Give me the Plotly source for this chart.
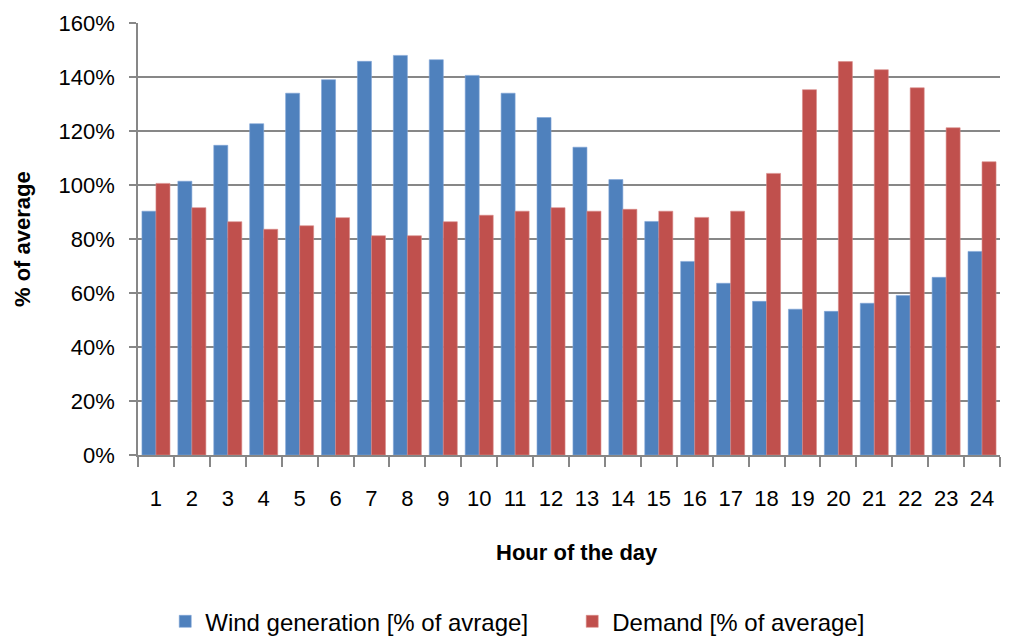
import plotly.graph_objects as go

hours = [str(h) for h in range(1, 25)]
wind = [90.3, 101.4, 114.7, 122.7, 134.0, 139.0, 145.8, 148.0, 146.4, 140.6, 134.0, 125.0,
        114.0, 102.0, 86.5, 71.7, 63.6, 56.9, 54.0, 53.2, 56.2, 59.1, 65.8, 75.4]
demand = [100.6, 91.6, 86.4, 83.6, 84.9, 87.9, 81.2, 81.2, 86.4, 88.8, 90.3, 91.6,
          90.3, 91.0, 90.3, 88.0, 90.3, 104.3, 135.3, 145.7, 142.7, 136.0, 121.2, 108.6]
yticks = [0, 20, 40, 60, 80, 100, 120, 140, 160]
ytext = [f"{v}%" for v in yticks]

font = "Liberation Sans"
fig = go.Figure()
fig.add_trace(go.Bar(x=hours, y=wind, name="Wind generation [% of avrage]",
                     marker=dict(color="#4F81BD", line=dict(color="#7FA4D6", width=0.6))))
fig.add_trace(go.Bar(x=hours, y=demand, name="Demand [% of average]",
                     marker=dict(color="#C0504D", line=dict(color="#D98A88", width=0.6))))

fig.update_layout(
    width=1011, height=637,
    margin=dict(l=138, r=11, t=21, b=182),
    paper_bgcolor="white", plot_bgcolor="white",
    barmode="group", bargap=0.22, bargroupgap=0.0,
    font=dict(family=font, size=22, color="#000000"),
    showlegend=True,
    legend=dict(orientation="h", xref="container", x=0.566, xanchor="center",
                yref="container", y=0.024, yanchor="middle",
                font=dict(size=24), entrywidth=362, entrywidthmode="pixels",
                traceorder="normal"),
    xaxis=dict(type="category", showgrid=False, showline=True, linecolor="#878787", linewidth=1.5,
               ticks="outside", tickson="boundaries", ticklen=10, tickcolor="#878787", tickwidth=1.5,
               ticklabelstandoff=23, tickfont=dict(size=22)),
    yaxis=dict(range=[0, 160], tickvals=yticks, ticktext=ytext, showgrid=True,
               gridcolor="#878787", gridwidth=1.5, showline=True, linecolor="#878787", linewidth=1.5,
               ticks="outside", ticklen=7, tickcolor="#878787", tickwidth=1.5,
               tickfont=dict(size=22), zeroline=False, ticklabelstandoff=10),
    annotations=[
        dict(text="<b>Hour of the day</b>", xref="paper", yref="paper", x=0.5, y=0,
             yshift=-97, showarrow=False, font=dict(size=22), xanchor="center", yanchor="middle",
             xshift=8),
        dict(text="<b>% of average</b>", xref="paper", yref="paper", x=0, y=0.5,
             xshift=-116, showarrow=False, font=dict(size=22), textangle=-90,
             xanchor="center", yanchor="middle"),
    ],
)
fig.write_html("out.html", config={"displayModeBar": False},
               post_script="document.body.style.margin='0';document.body.style.overflow='hidden';")
